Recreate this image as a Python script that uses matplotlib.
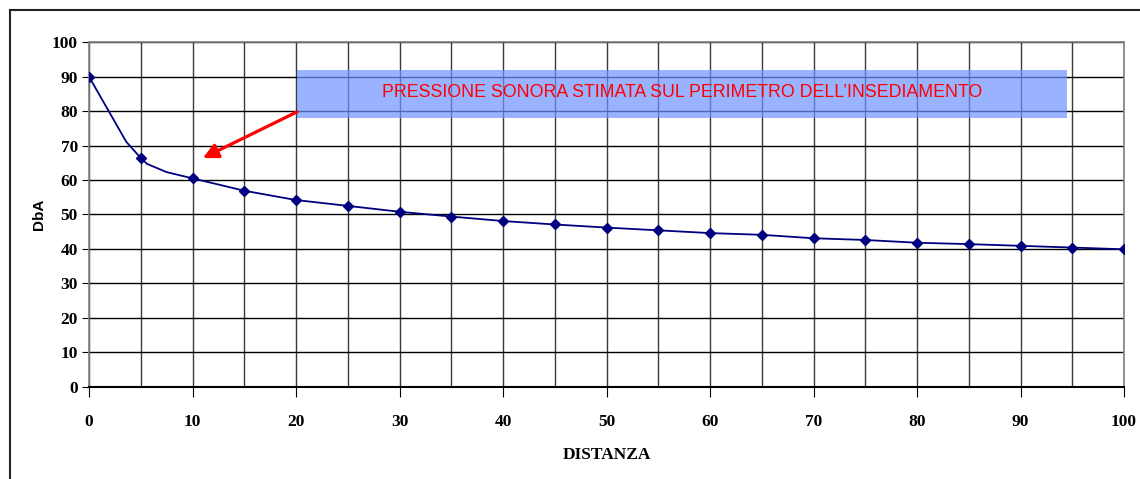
import matplotlib.pyplot as plt
from matplotlib.lines import Line2D
from matplotlib.patches import Rectangle
from matplotlib.ticker import MultipleLocator

# distance (m) and estimated sound pressure (dBA), markers every 5 m
distanza = [0, 5, 10, 15, 20, 25, 30, 35, 40, 45, 50,
            55, 60, 65, 70, 75, 80, 85, 90, 95, 100]
dba = [90.0, 66.4, 60.5, 56.9, 54.2, 52.5, 50.8, 49.4, 48.1, 47.1, 46.2,
       45.4, 44.6, 44.1, 43.1, 42.6, 41.8, 41.4, 40.9, 40.4, 39.9]

# extra unmarked points of the drawn curve in the first 10 m
curve_x = [0, 3.6, 5, 5.6, 7.5, 10]
curve_y = [90.0, 71.1, 66.4, 64.7, 62.3, 60.5]

NAVY = "#000080"
SERIF = ["Liberation Serif", "DejaVu Serif"]
SANS = ["Liberation Sans", "DejaVu Sans"]

fig = plt.figure(figsize=(11.4, 4.79), dpi=100)
ax = fig.add_axes([0.0781, 0.1927, 0.9079, 0.719])

# curve: detailed part up to 10 m, then straight segments between markers
ax.plot(curve_x, curve_y, color=NAVY, lw=1.3, zorder=4)
ax.plot(distanza[2:], dba[2:], color=NAVY, lw=1.3, zorder=4)
ax.plot(distanza, dba, ls="none", marker="D", ms=5.5, color=NAVY, zorder=5)

ax.set_xlim(0, 100)
ax.set_ylim(0, 100)
ax.xaxis.set_major_locator(MultipleLocator(10))
ax.xaxis.set_minor_locator(MultipleLocator(5))
ax.yaxis.set_major_locator(MultipleLocator(10))

ax.grid(which="minor", axis="x", color="#3a3a3a", lw=1.0, zorder=1)
ax.grid(which="major", axis="x", color="#3a3a3a", lw=1.0, zorder=1)
ax.grid(which="major", axis="y", color="black", lw=1.0, zorder=1)

ax.tick_params(axis="x", which="major", direction="out", length=7, width=0.8, pad=13)
ax.tick_params(axis="x", which="minor", length=0)
ax.tick_params(axis="y", direction="out", length=5, width=0.8, pad=3)

for lbl in ax.get_xticklabels() + ax.get_yticklabels():
    lbl.set_family(SERIF)
    lbl.set_fontweight("bold")
    lbl.set_fontsize(12.5)

for side in ["top", "right", "left"]:
    ax.spines[side].set_color("#808080")
    ax.spines[side].set_linewidth(1.2)
ax.spines["bottom"].set_color("black")
ax.spines["bottom"].set_linewidth(1.5)

ax.set_xlabel("DISTANZA", family=SERIF, fontweight="bold", fontsize=12.5, labelpad=12)
ax.set_ylabel("DbA", family=SANS, fontweight="bold", fontsize=11, labelpad=4)

# label box and arrow
ax.add_patch(Rectangle((20.1, 78.0), 74.4, 14.0, facecolor="#6f93ff",
                       alpha=0.7, edgecolor="none", zorder=3))
ax.text(57.3, 85.3, "PRESSIONE SONORA STIMATA SUL PERIMETRO DELL\u2019INSEDIAMENTO",
        color="red", family=SANS, fontsize=12.8, ha="center", va="center", zorder=6)
ax.annotate("", xy=(11.0, 66.4), xytext=(20.1, 79.8),
            arrowprops=dict(arrowstyle="-|>,head_length=0.9,head_width=0.45",
                            color="red", lw=2.3, shrinkA=0, shrinkB=0), zorder=6)

# outer chart frame (top and left edges)
fig.add_artist(Line2D([10 / 1140, 1.0], [1 - 10 / 479, 1 - 10 / 479],
                      transform=fig.transFigure, color="#222222", lw=1.5))
fig.add_artist(Line2D([10 / 1140, 10 / 1140], [0.0, 1 - 10 / 479],
                      transform=fig.transFigure, color="#222222", lw=1.5))

fig.savefig("out.png", dpi=100)
